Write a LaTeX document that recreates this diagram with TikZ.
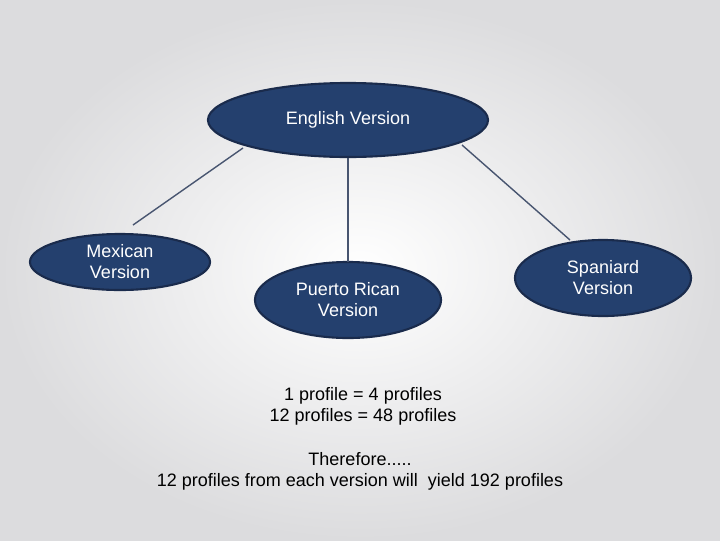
\documentclass[tikz,border=0pt]{standalone}
\usepackage{fontspec}
\setmainfont{Liberation Sans}
\usetikzlibrary{shapes.geometric}
\definecolor{navy}{HTML}{24406E}
\definecolor{navyline}{HTML}{1A2B4C}
\definecolor{edgegray}{HTML}{DCDCDE}
\begin{document}
\begin{tikzpicture}[x=0.025cm,y=-0.025cm,
  ov/.style={ellipse,draw=navyline,line width=1.5pt,fill=navy,text=white,font=\fontsize{12.8}{15}\selectfont,align=center,inner sep=0pt},
  conn/.style={draw=navyline!80!white,line width=1pt},
  txt/.style={font=\fontsize{12.8}{15}\selectfont,align=center,text=black}]
\shade[inner color=white,outer color=edgegray] (0,0) rectangle (720,540);
\useasboundingbox (0,0) rectangle (720,540);
\node[ov,minimum width=7cm,minimum height=1.85cm] (eng) at (348,120) {English Version};
\node[ov,minimum width=4.5cm,minimum height=1.4cm] (mex) at (120,262) {Mexican\\Version};
\node[ov,minimum width=4.65cm,minimum height=1.9cm] (pr) at (348,300) {Puerto Rican\\Version};
\node[ov,minimum width=4.4cm,minimum height=1.9cm] (sp) at (603,278) {Spaniard\\Version};
\coordinate (e1) at (243,148); \coordinate (m1) at (133,225);
\coordinate (e2) at (348,158); \coordinate (p1) at (348,262);
\coordinate (e3) at (462,145); \coordinate (s1) at (570,240);
\draw[conn] (e1) -- (m1);
\draw[conn] (e2) -- (p1);
\draw[conn] (e3) -- (s1);
\node[txt] (t1) at (363,406) {1 profile = 4 profiles\\12 profiles = 48 profiles};
\node[txt] (t2) at (360,471) {Therefore.....\\12 profiles from each version will\ \ yield 192 profiles};
\end{tikzpicture}
\end{document}
